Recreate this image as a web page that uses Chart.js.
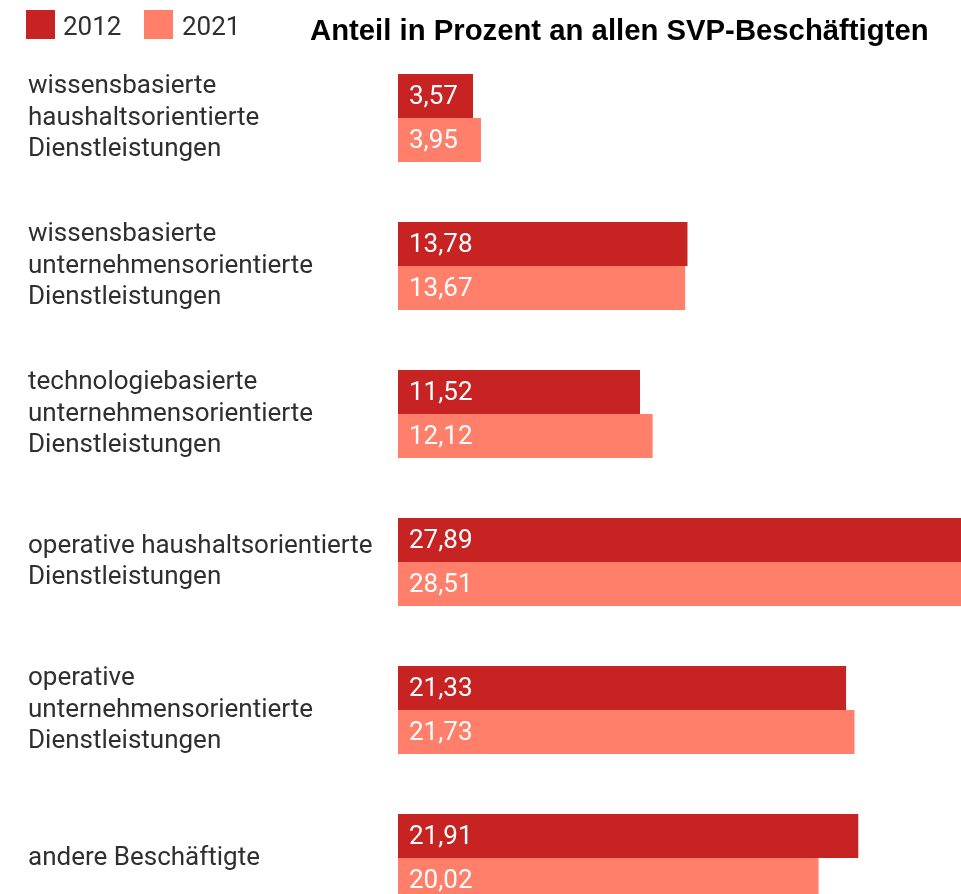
<!DOCTYPE html>
<html>
<head>
<meta charset="utf-8">
<script src="https://cdn.jsdelivr.net/npm/chart.js@4/dist/chart.umd.min.js"></script>
<style>
  html, body { margin: 0; padding: 0; background: #ffffff; overflow: hidden; }
  #wrap { width: 961px; height: 932px; }
</style>
</head>
<body>
<div id="wrap"><canvas id="c" width="961" height="932"></canvas></div>
<script>
const categories = [
  ["wissensbasierte", "haushaltsorientierte", "Dienstleistungen"],
  ["wissensbasierte", "unternehmensorientierte", "Dienstleistungen"],
  ["technologiebasierte", "unternehmensorientierte", "Dienstleistungen"],
  ["operative haushaltsorientierte", "Dienstleistungen"],
  ["operative", "unternehmensorientierte", "Dienstleistungen"],
  ["andere Beschäftigte"]
];
const seriesNames = ["2012", "2021"];
const values2012 = [3.57, 13.78, 11.52, 27.89, 21.33, 21.91];
const values2021 = [3.95, 13.67, 12.12, 28.51, 21.73, 20.02];
const titleText = "Anteil in Prozent an allen SVP-Beschäftigten";

const COL_DARK = "#C62322";
const COL_LIGHT = "#FF7F6A";
const TEXT_COL = "#2f2f2f";

const valueLabels = {
  id: "valueLabels",
  afterDatasetsDraw(chart) {
    const ctx = chart.ctx;
    ctx.save();
    ctx.font = "26px Roboto";
    ctx.fillStyle = "#ffffff";
    ctx.textBaseline = "middle";
    ctx.textAlign = "left";
    chart.data.datasets.forEach((ds, di) => {
      const meta = chart.getDatasetMeta(di);
      meta.data.forEach((el, i) => {
        const v = ds.data[i];
        ctx.fillText(v.toFixed(2).replace(".", ","), el.base + 11, el.y + 1);
      });
    });
    ctx.restore();
  }
};

const headerPlugin = {
  id: "header",
  afterDraw(chart) {
    const ctx = chart.ctx;
    ctx.save();
    const items = [
      { box: 26, text: 63 },
      { box: 144, text: 182 }
    ];
    chart.data.datasets.forEach((ds, i) => {
      ctx.fillStyle = ds.backgroundColor;
      ctx.fillRect(items[i].box, 10, 29, 29);
      ctx.fillStyle = TEXT_COL;
      ctx.font = "26px Roboto";
      ctx.textBaseline = "alphabetic";
      ctx.textAlign = "left";
      ctx.fillText(ds.label, items[i].text, 35);
    });
    ctx.fillStyle = "#000000";
    ctx.font = "bold 29.3px 'Liberation Sans', Arial, sans-serif";
    ctx.textBaseline = "alphabetic";
    ctx.fillText(titleText, 310, 40);
    ctx.restore();
  }
};

new Chart(document.getElementById("c"), {
  type: "bar",
  data: {
    labels: categories,
    datasets: [
      { label: seriesNames[0], data: values2012, backgroundColor: COL_DARK },
      { label: seriesNames[1], data: values2021, backgroundColor: COL_LIGHT }
    ]
  },
  options: {
    indexAxis: "y",
    responsive: false,
    animation: false,
    devicePixelRatio: 1,
    layout: { padding: { top: 44, left: 28, right: 0, bottom: 0 } },
    datasets: { bar: { categoryPercentage: 88 / 148, barPercentage: 1.0 } },
    scales: {
      x: { display: false, min: 0, max: 26.8 },
      y: {
        grid: { display: false },
        border: { display: false },
        ticks: {
          crossAlign: "far",
          color: TEXT_COL,
          font: { family: "Roboto", size: 26, lineHeight: 1.21 },
          padding: 0
        },
        afterFit(scale) {
          scale.width = 370;
          scale.paddingTop = 0;
          scale.paddingBottom = 0;
        }
      }
    },
    plugins: {
      legend: { display: false },
      tooltip: { enabled: false }
    }
  },
  plugins: [valueLabels, headerPlugin]
});
</script>
</body>
</html>
